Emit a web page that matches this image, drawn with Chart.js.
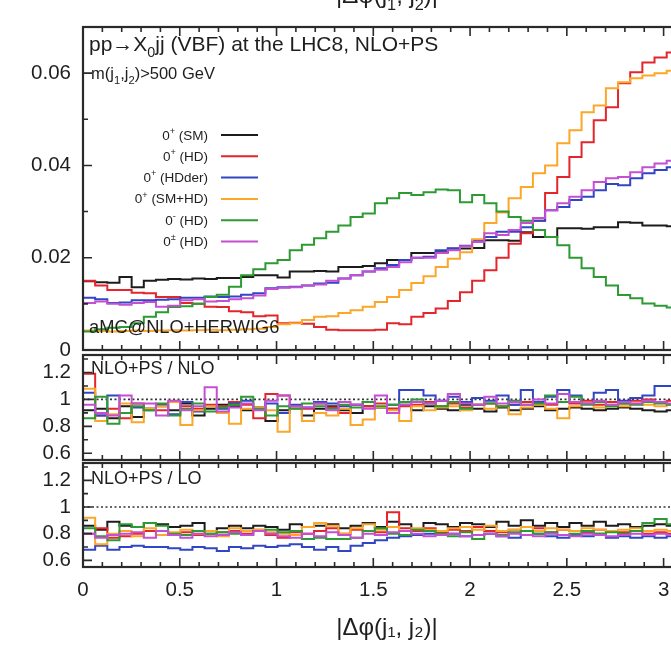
<!DOCTYPE html>
<html>
<head>
<meta charset="utf-8">
<script src="https://cdn.jsdelivr.net/npm/chart.js@4.4.1/dist/chart.umd.min.js"></script>
<style>
  html, body { margin: 0; padding: 0; background: #fff; overflow: hidden; }
  #wrap { position: relative; width: 671px; height: 645px; overflow: hidden; }
  #wrap canvas { position: absolute; left: 0; }
</style>
</head>
<body>
<div id="wrap">
  <canvas id="main" width="700" height="380" style="top:0"></canvas>
  <canvas id="rNlo" width="700" height="165" style="top:325px"></canvas>
  <canvas id="rLo" width="700" height="212" style="top:433px"></canvas>
</div>
<script>
// |dphi(j1,j2)| histograms: 50 bins on [0, pi]
const N_BINS = 50;
const BIN_EDGES = Array.from({ length: N_BINS + 1 }, (_, i) => i * Math.PI / N_BINS);

const SERIES = ['0^+ (SM)', '0^+ (HD)', '0^+ (HDder)', '0^+ (SM+HD)', '0^- (HD)', '0^± (HD)'];
const COLORS = ['#1c1c1c', '#e4262c', '#3146c4', '#fca62a', '#2d9a34', '#c54fd2'];

// normalised distributions, NLO+PS
const sm = [0.0148,0.0149,0.0147,0.0146,0.0158,0.0136,0.0150,0.0152,0.0154,0.0153,
  0.0155,0.0154,0.0156,0.0156,0.0158,0.0162,0.0162,0.0157,0.0170,0.0170,
  0.0171,0.0170,0.0180,0.0180,0.0182,0.0188,0.0195,0.0195,0.0210,0.0210,
  0.0212,0.0220,0.0220,0.0221,0.0238,0.0238,0.0237,0.0255,0.0245,0.0245,
  0.0264,0.0264,0.0263,0.0266,0.0266,0.0277,0.0276,0.0270,0.0270,0.0268];
const hd = [0.0150,0.0150,0.0140,0.0130,0.0130,0.0124,0.0123,0.0115,0.0115,0.0102,
  0.0100,0.0094,0.0093,0.0084,0.0082,0.0073,0.0075,0.0058,0.0059,0.0057,
  0.0050,0.0044,0.0043,0.0043,0.0043,0.0044,0.0058,0.0056,0.0072,0.0080,
  0.0090,0.0106,0.0125,0.0150,0.0173,0.0200,0.0230,0.0253,0.0280,0.0340,
  0.0375,0.0418,0.0450,0.0498,0.0526,0.0578,0.0602,0.0623,0.0634,0.0645];
const hdder = [0.0113,0.0113,0.0110,0.0102,0.0103,0.0108,0.0108,0.0109,0.0110,0.0113,
  0.0113,0.0116,0.0115,0.0116,0.0120,0.0123,0.0134,0.0136,0.0137,0.0140,
  0.0144,0.0146,0.0155,0.0162,0.0170,0.0177,0.0184,0.0195,0.0200,0.0202,
  0.0216,0.0220,0.0226,0.0238,0.0245,0.0256,0.0256,0.0266,0.0280,0.0303,
  0.0310,0.0325,0.0332,0.0346,0.0360,0.0357,0.0372,0.0383,0.0390,0.0396];
const smhd = [0.0040,0.0042,0.0041,0.0040,0.0041,0.0042,0.0041,0.0042,0.0043,0.0042,
  0.0043,0.0044,0.0043,0.0044,0.0045,0.0046,0.0050,0.0056,0.0058,0.0065,
  0.0072,0.0073,0.0080,0.0086,0.0094,0.0104,0.0115,0.0130,0.0145,0.0160,
  0.0180,0.0198,0.0212,0.0240,0.0275,0.0298,0.0329,0.0353,0.0383,0.0400,
  0.0448,0.0476,0.0515,0.0530,0.0567,0.0580,0.0589,0.0595,0.0600,0.0605];
const minusHd = [0.0040,0.0040,0.0045,0.0048,0.0050,0.0058,0.0072,0.0082,0.0093,0.0095,
  0.0100,0.0115,0.0120,0.0137,0.0162,0.0175,0.0188,0.0195,0.0216,0.0228,
  0.0242,0.0256,0.0270,0.0288,0.0296,0.0318,0.0329,0.0340,0.0336,0.0342,
  0.0348,0.0346,0.0320,0.0336,0.0318,0.0300,0.0288,0.0280,0.0260,0.0245,
  0.0227,0.0200,0.0177,0.0158,0.0140,0.0119,0.0112,0.0101,0.0096,0.0092];
const pmHd = [0.0102,0.0102,0.0105,0.0100,0.0098,0.0102,0.0104,0.0094,0.0096,0.0108,
  0.0110,0.0105,0.0106,0.0110,0.0112,0.0118,0.0132,0.0135,0.0136,0.0140,
  0.0142,0.0150,0.0155,0.0162,0.0170,0.0174,0.0180,0.0190,0.0200,0.0200,
  0.0210,0.0216,0.0225,0.0234,0.0253,0.0249,0.0260,0.0275,0.0286,0.0303,
  0.0318,0.0332,0.0346,0.0364,0.0372,0.0375,0.0385,0.0396,0.0404,0.0410];

// NLO+PS / NLO
const smOverNlo = [0.90,0.92,0.93,0.86,0.95,0.87,0.93,0.95,0.92,0.97,0.88,0.93,0.96,0.95,0.92,0.94,0.84,0.92,0.95,0.88,
  0.93,0.95,0.92,0.90,0.95,0.94,0.93,0.96,0.92,0.95,0.93,0.92,0.96,0.93,0.91,0.94,0.92,0.93,0.95,0.92,
  0.93,0.94,0.93,0.92,0.93,0.94,0.93,0.92,0.91,0.92];
const hdOverNlo = [0.95,1.19,0.88,0.93,0.86,0.97,0.93,0.92,0.98,0.95,0.93,0.96,0.95,0.98,0.96,0.86,1.04,1.03,0.95,0.93,
  0.97,0.94,0.90,0.96,0.95,0.97,0.93,0.95,0.96,0.98,0.95,0.97,0.94,0.96,0.97,0.95,0.96,0.98,0.97,0.96,
  0.98,0.97,0.99,0.96,0.98,0.97,0.99,1.00,0.98,0.99];
const hdderOverNlo = [0.93,1.05,0.88,1.03,0.90,0.94,0.92,0.96,0.89,0.98,0.91,0.95,0.93,0.97,0.99,0.93,0.97,0.90,0.96,0.94,
  0.98,0.97,0.95,0.96,0.98,0.94,0.96,1.07,1.07,1.03,0.99,1.02,0.98,1.01,0.99,1.03,0.96,1.07,0.98,1.02,
  1.07,1.03,0.97,1.05,1.07,0.99,1.01,1.03,1.10,1.10];
const smhdOverNlo = [0.95,1.08,0.84,0.89,0.97,0.83,0.93,0.95,0.98,0.81,0.92,0.95,0.90,0.82,0.93,0.94,0.92,0.76,0.93,0.84,
  0.90,0.88,0.93,0.81,0.85,0.94,0.92,0.84,0.95,0.92,0.94,0.95,0.92,0.96,0.93,0.95,0.89,0.94,0.96,0.93,
  0.86,0.95,0.97,0.94,0.96,0.95,0.97,0.96,0.95,0.96];
const minusHdOverNlo = [0.87,0.86,1.02,0.82,0.90,0.95,0.92,0.97,0.88,0.93,0.97,0.91,0.94,0.96,1.02,0.93,0.88,0.95,0.93,0.97,
  0.95,0.93,0.96,0.94,0.98,0.95,0.96,0.98,1.00,0.97,0.95,0.98,0.93,0.96,0.97,0.95,0.99,0.96,0.97,1.03,
  0.98,1.02,0.96,0.98,0.95,0.97,0.96,0.98,0.97,0.96];
const pmHdOverNlo = [0.93,0.96,0.90,0.88,1.03,0.97,0.97,0.88,0.99,0.92,0.95,1.09,0.91,0.94,0.97,0.92,0.99,1.03,0.95,0.94,
  0.97,0.92,0.98,0.96,0.93,1.03,0.90,0.96,0.98,0.97,0.99,1.04,0.97,0.96,1.02,0.97,0.98,0.96,1.00,0.97,
  1.04,0.98,0.97,0.99,0.96,0.98,0.97,0.99,0.98,0.97];

// NLO+PS / LO
const smOverLo = [0.87,0.86,0.83,0.89,0.86,0.85,0.88,0.87,0.85,0.86,0.88,0.82,0.84,0.86,0.84,0.86,0.85,0.83,0.87,0.85,
  0.86,0.87,0.84,0.86,0.88,0.85,0.89,0.87,0.83,0.88,0.87,0.85,0.88,0.87,0.85,0.89,0.86,0.90,0.86,0.88,
  0.85,0.88,0.86,0.89,0.86,0.87,0.85,0.86,0.87,0.86];
const hdOverLo = [0.82,0.80,0.84,0.77,0.78,0.80,0.82,0.79,0.80,0.81,0.79,0.80,0.81,0.82,0.80,0.83,0.79,0.77,0.81,0.80,
  0.82,0.84,0.80,0.83,0.82,0.81,0.96,0.84,0.82,0.84,0.81,0.83,0.82,0.85,0.82,0.81,0.83,0.82,0.84,0.81,
  0.83,0.82,0.81,0.83,0.82,0.81,0.82,0.80,0.81,0.80];
const hdderOverLo = [0.70,0.68,0.71,0.68,0.70,0.71,0.70,0.70,0.69,0.68,0.70,0.69,0.67,0.70,0.69,0.71,0.70,0.71,0.72,0.70,
  0.68,0.70,0.67,0.71,0.73,0.75,0.77,0.78,0.79,0.80,0.79,0.80,0.78,0.79,0.80,0.78,0.77,0.79,0.80,0.78,
  0.77,0.79,0.78,0.80,0.77,0.78,0.77,0.78,0.77,0.78];
const smhdOverLo = [0.79,0.92,0.72,0.80,0.82,0.78,0.84,0.79,0.81,0.83,0.80,0.82,0.78,0.84,0.82,0.83,0.81,0.80,0.79,0.85,
  0.88,0.86,0.80,0.84,0.87,0.83,0.85,0.82,0.84,0.83,0.82,0.84,0.85,0.83,0.86,0.82,0.83,0.85,0.82,0.84,
  0.83,0.82,0.84,0.83,0.82,0.83,0.84,0.82,0.83,0.82];
const minusHdOverLo = [0.85,0.84,0.78,0.75,0.87,0.85,0.88,0.86,0.80,0.79,0.82,0.80,0.81,0.80,0.79,0.82,0.83,0.81,0.82,0.76,
  0.77,0.76,0.76,0.77,0.82,0.84,0.80,0.79,0.83,0.82,0.80,0.78,0.81,0.76,0.80,0.79,0.81,0.82,0.80,0.81,
  0.79,0.80,0.82,0.80,0.81,0.80,0.82,0.88,0.91,0.87];
const pmHdOverLo = [0.78,0.80,0.77,0.79,0.80,0.81,0.77,0.82,0.79,0.77,0.80,0.78,0.79,0.81,0.79,0.82,0.80,0.78,0.77,0.80,
  0.78,0.81,0.79,0.77,0.80,0.79,0.81,0.82,0.80,0.78,0.79,0.80,0.78,0.79,0.80,0.78,0.80,0.79,0.78,0.80,
  0.79,0.78,0.80,0.79,0.78,0.79,0.80,0.79,0.80,0.79];

// axis ticks
const X_TICKS = [0, 0.5, 1, 1.5, 2, 2.5, 3];
const X_LABELS = ['0', '0.5', '1', '1.5', '2', '2.5', '3'];
const X_MINOR = [0.1,0.2,0.3,0.4,0.6,0.7,0.8,0.9,1.1,1.2,1.3,1.4,1.6,1.7,1.8,1.9,2.1,2.2,2.3,2.4,2.6,2.7,2.8,2.9,3.1];
const Y_MAIN_TICKS = [0, 0.02, 0.04, 0.06];
const Y_MAIN_LABELS = ['0', '0.02', '0.04', '0.06'];
const Y_MAIN_MINOR = [0.01, 0.03, 0.05];
const Y_RATIO_TICKS = [0.6, 0.8, 1, 1.2];
const Y_RATIO_LABELS = ['0.6', '0.8', '1', '1.2'];
const Y_RATIO_MINOR = [0.7, 0.9, 1.1, 1.3];

const FONT = '"Liberation Sans", Arial, Helvetica, sans-serif';
Chart.defaults.font.family = FONT;
Chart.defaults.color = '#1e1e1e';

// "^" raises and "_" lowers the single character after it
function drawRich(ctx, str, x, y, size, align) {
  const parts = [];
  for (let i = 0; i < str.length; i++) {
    const c = str[i];
    if ((c === '^' || c === '_') && i + 1 < str.length) {
      parts.push({ t: str[++i], rise: c === '^' ? -0.42 * size : 0.28 * size, size: size * 0.68 });
    } else if (parts.length && parts[parts.length - 1].rise === 0) {
      parts[parts.length - 1].t += c;
    } else {
      parts.push({ t: c, rise: 0, size });
    }
  }
  let w = 0;
  parts.forEach(p => { ctx.font = `${p.size}px ${FONT}`; p.w = ctx.measureText(p.t).width; w += p.w; });
  let cx = align === 'right' ? x - w : align === 'center' ? x - w / 2 : x;
  ctx.textAlign = 'left';
  ctx.textBaseline = 'alphabetic';
  parts.forEach(p => { ctx.font = `${p.size}px ${FONT}`; ctx.fillText(p.t, cx, y + p.rise); cx += p.w; });
}

// frame plus inward ticks on every side
const panelFrame = {
  id: 'panelFrame',
  afterDraw(chart, args, o) {
    const { ctx, chartArea: a, scales: { x, y } } = chart;
    ctx.save();
    ctx.strokeStyle = '#2a2a2a';
    ctx.lineWidth = 1.6;
    ctx.beginPath();
    const xMarks = (list, len) => list.forEach(v => {
      const px = x.getPixelForValue(v);
      ctx.moveTo(px, a.bottom); ctx.lineTo(px, a.bottom - len);
      ctx.moveTo(px, a.top); ctx.lineTo(px, a.top + len);
    });
    const yMarks = (list, len) => list.forEach(v => {
      const py = y.getPixelForValue(v);
      ctx.moveTo(a.left, py); ctx.lineTo(a.left + len, py);
      ctx.moveTo(a.right, py); ctx.lineTo(a.right - len, py);
    });
    xMarks(X_TICKS, 9); xMarks(X_MINOR, 5);
    yMarks(o.yMajor, 9); yMarks(o.yMinor, 5);
    ctx.stroke();
    ctx.lineWidth = 2.2;
    ctx.strokeRect(a.left, a.top, a.width, a.height);
    ctx.restore();
  }
};

// free text inside the canvas
const notes = {
  id: 'notes',
  afterDatasetsDraw(chart, args, o) {
    const ctx = chart.ctx;
    ctx.save();
    ctx.fillStyle = '#1e1e1e';
    (o.items || []).forEach(n => drawRich(ctx, n.text, n.x, n.y, n.size, n.align));
    ctx.restore();
  }
};

// key: label on the left, line sample on the right
const keyBox = {
  id: 'keyBox',
  afterDatasetsDraw(chart, args, o) {
    if (!o.show) return;
    const ctx = chart.ctx;
    ctx.save();
    chart.data.datasets.filter(d => d.inKey).forEach((d, i) => {
      const yy = o.top + i * o.row;
      ctx.fillStyle = '#1e1e1e';
      drawRich(ctx, d.label, o.textRight, yy + 4.5, o.size, 'right');
      ctx.strokeStyle = d.borderColor;
      ctx.lineWidth = 2;
      ctx.beginPath();
      ctx.moveTo(o.lineFrom, yy); ctx.lineTo(o.lineTo, yy);
      ctx.stroke();
    });
    ctx.restore();
  }
};

function histPoints(vals) {
  const pts = vals.map((v, i) => ({ x: BIN_EDGES[i], y: v }));
  pts.push({ x: BIN_EDGES[N_BINS], y: vals[N_BINS - 1] });
  return pts;
}

function histSets(list) {
  return list.map((vals, i) => ({
    label: SERIES[i],
    inKey: true,
    data: histPoints(vals),
    borderColor: COLORS[i],
    borderWidth: 2,
    stepped: 'after',
    pointRadius: 0,
    fill: false,
    order: SERIES.length - i
  }));
}

const unityLine = {
  label: 'unity',
  data: [{ x: 0, y: 1 }, { x: Math.PI, y: 1 }],
  borderColor: '#333',
  borderWidth: 1.6,
  borderDash: [2, 2.5],
  pointRadius: 0,
  order: 20
};

function makePanel(id, cfg) {
  return new Chart(document.getElementById(id), {
    type: 'line',
    data: { datasets: cfg.datasets },
    plugins: [panelFrame, notes, keyBox],
    options: {
      responsive: false,
      animation: false,
      events: [],
      layout: { padding: cfg.padding },
      scales: {
        x: {
          type: 'linear', min: 0, max: Math.PI,
          display: !!cfg.showX,
          grid: { display: false, drawTicks: false },
          border: { display: false },
          afterBuildTicks: s => { s.ticks = X_TICKS.map(v => ({ value: v })); },
          afterFit: s => { if (cfg.showX) s.height = 76; },
          ticks: { callback: (v, i) => X_LABELS[i], padding: 11, font: { size: 20.5 }, maxRotation: 0, autoSkip: false },
          title: { display: true, text: '|Δφ(j₁, j₂)|', font: { size: 24 }, padding: 0 }
        },
        y: {
          type: 'linear', min: cfg.yMin, max: cfg.yMax,
          grid: { display: false, drawTicks: false },
          border: { display: false },
          afterBuildTicks: s => { s.ticks = cfg.yTicks.map(v => ({ value: v })); },
          afterFit: s => { s.width = 83; },
          ticks: { callback: (v, i) => cfg.yLabels[i], padding: 12, font: { size: 20.5 } }
        }
      },
      plugins: {
        legend: { display: false },
        tooltip: { enabled: false },
        panelFrame: { yMajor: cfg.yTicks, yMinor: cfg.yMinor },
        notes: { items: cfg.notes },
        keyBox: { show: !!cfg.key, top: 135, row: 21.3, textRight: 208, lineFrom: 221, lineTo: 258, size: 13.5 }
      }
    }
  });
}

makePanel('main', {
  datasets: histSets([sm, hd, hdder, smhd, minusHd, pmHd]),
  padding: { top: 27, bottom: 30, left: 0, right: 9 },
  yMin: 0, yMax: 0.07,
  yTicks: Y_MAIN_TICKS, yLabels: Y_MAIN_LABELS, yMinor: Y_MAIN_MINOR,
  key: true,
  notes: [
    { text: '|Δφ(j_1, j_2)|', x: 387, y: 3, size: 24, align: 'center' },
    { text: 'pp→X_0jj (VBF) at the LHC8, NLO+PS', x: 89, y: 51, size: 21 },
    { text: 'm(j_1,j_2)>500 GeV', x: 91, y: 79, size: 16.5 },
    { text: 'aMC@NLO+HERWIG6', x: 89, y: 333, size: 18.3 }
  ]
});

makePanel('rNlo', {
  datasets: [unityLine].concat(histSets([smOverNlo, hdOverNlo, hdderOverNlo, smhdOverNlo, minusHdOverNlo, pmHdOverNlo])),
  padding: { top: 30, bottom: 30, left: 0, right: 9 },
  yMin: 0.55, yMax: 1.33,
  yTicks: Y_RATIO_TICKS, yLabels: Y_RATIO_LABELS, yMinor: Y_RATIO_MINOR,
  notes: [{ text: 'NLO+PS / NLO', x: 91, y: 49, size: 18 }]
});

makePanel('rLo', {
  datasets: [unityLine].concat(histSets([smOverLo, hdOverLo, hdderOverLo, smhdOverLo, minusHdOverLo, pmHdOverLo])),
  padding: { top: 30, bottom: 2, left: 0, right: 9 },
  showX: true,
  yMin: 0.55, yMax: 1.33,
  yTicks: Y_RATIO_TICKS, yLabels: Y_RATIO_LABELS, yMinor: Y_RATIO_MINOR,
  notes: [{ text: 'NLO+PS / LO', x: 91, y: 51, size: 18 }]
});
</script>
</body>
</html>
